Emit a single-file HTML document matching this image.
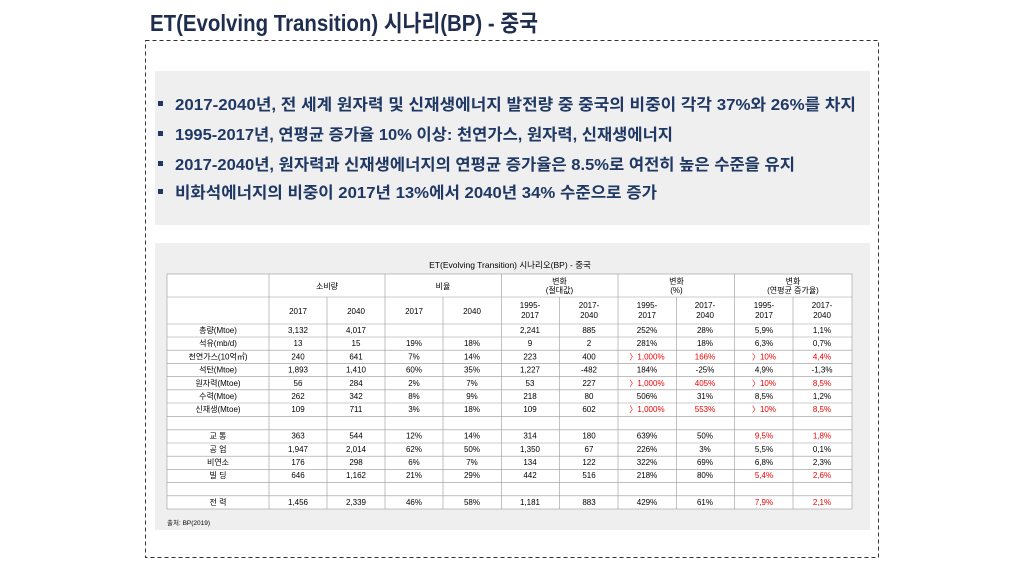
<!DOCTYPE html>
<html><head><meta charset="utf-8"><style>
html,body{margin:0;padding:0;background:#fff;}
svg{display:block;font-family:"Liberation Sans","Noto Sans CJK KR",sans-serif;}
</style></head><body>
<svg width="1024" height="576" viewBox="0 0 1024 576" xmlns="http://www.w3.org/2000/svg">
<rect width="1024" height="576" fill="#fff"/>
<text x="150" y="31" font-size="23" font-weight="bold" fill="#1f2d4f" textLength="388" lengthAdjust="spacingAndGlyphs">ET(Evolving Transition) 시나리(BP) - 중국</text>
<rect x="145.5" y="40.5" width="733" height="517" fill="none" stroke="#333" stroke-width="1" stroke-dasharray="4,3"/>
<rect x="155" y="71" width="715" height="154" fill="#efefef"/>
<rect x="155" y="243" width="715" height="287" fill="#efefef"/>
<g fill="#1f3864" font-size="16" font-weight="bold">
<rect x="158" y="101" width="5" height="5"/>
<rect x="158" y="131" width="5" height="5"/>
<rect x="158" y="161" width="5" height="5"/>
<rect x="158" y="189" width="5" height="5"/>
<text x="175" y="110" textLength="681" lengthAdjust="spacingAndGlyphs">2017-2040년, 전 세계 원자력 및 신재생에너지 발전량 중 중국의 비중이 각각 37%와 26%를 차지</text>
<text x="175" y="140" textLength="498" lengthAdjust="spacingAndGlyphs">1995-2017년, 연평균 증가율 10% 이상: 천연가스, 원자력, 신재생에너지</text>
<text x="175" y="170" textLength="620" lengthAdjust="spacingAndGlyphs">2017-2040년, 원자력과 신재생에너지의 연평균 증가율은 8.5%로 여전히 높은 수준을 유지</text>
<text x="175" y="198" textLength="482" lengthAdjust="spacingAndGlyphs">비화석에너지의 비중이 2017년 13%에서 2040년 34% 수준으로 증가</text>
</g>
<text x="510" y="268" font-size="8.5" text-anchor="middle" fill="#000">ET(Evolving Transition) 시나리오(BP) - 중국</text>
<rect x="167" y="274" width="685" height="235" fill="#fff"/>
<g stroke="#999" stroke-width="0.6" fill="none">
<rect x="167" y="274" width="685" height="235"/>
<line x1="167" y1="297" x2="852" y2="297"/>
<line x1="167" y1="324" x2="852" y2="324"/>
<line x1="167" y1="495.8" x2="852" y2="495.8"/>
<line x1="167" y1="416.6" x2="852" y2="416.6"/>
<line x1="167" y1="429.8" x2="852" y2="429.8"/>
<line x1="167" y1="482.6" x2="852" y2="482.6"/>
<line x1="269" y1="274" x2="269" y2="509"/>
<line x1="327" y1="297" x2="327" y2="509"/>
<line x1="385" y1="274" x2="385" y2="509"/>
<line x1="443" y1="297" x2="443" y2="509"/>
<line x1="501.5" y1="274" x2="501.5" y2="509"/>
<line x1="559.5" y1="297" x2="559.5" y2="509"/>
<line x1="618" y1="274" x2="618" y2="509"/>
<line x1="676.5" y1="297" x2="676.5" y2="509"/>
<line x1="734.5" y1="274" x2="734.5" y2="509"/>
<line x1="793" y1="297" x2="793" y2="509"/>
</g>
<g font-size="8" text-anchor="middle" fill="#000">
<text x="327" y="289">소비량</text>
<text x="443" y="289">비율</text>
<text x="559.5" y="284">변화</text><text x="559.5" y="293">(절대값)</text>
<text x="676.5" y="284">변화</text><text x="676.5" y="293">(%)</text>
<text x="793" y="284">변화</text><text x="793" y="293">(연평균 증가율)</text>
<text x="298" y="314">2017</text><text x="356" y="314">2040</text>
<text x="414" y="314">2017</text><text x="472" y="314">2040</text>
<text x="530" y="308">1995-</text><text x="530" y="318">2017</text>
<text x="589" y="308">2017-</text><text x="589" y="318">2040</text>
<text x="647" y="308">1995-</text><text x="647" y="318">2017</text>
<text x="705" y="308">2017-</text><text x="705" y="318">2040</text>
<text x="764" y="308">1995-</text><text x="764" y="318">2017</text>
<text x="822" y="308">2017-</text><text x="822" y="318">2040</text>
</g>
<g font-size="8" text-anchor="middle" fill="#000">
<g transform="translate(0,333)">
<text x="218">총량(Mtoe)</text><text x="298">3,132</text><text x="356">4,017</text><text x="530">2,241</text><text x="589">885</text><text x="647">252%</text><text x="705">28%</text><text x="764">5,9%</text><text x="822">1,1%</text></g>
<g transform="translate(0,346.2)">
<text x="218">석유(mb/d)</text><text x="298">13</text><text x="356">15</text><text x="414">19%</text><text x="472">18%</text><text x="530">9</text><text x="589">2</text><text x="647">281%</text><text x="705">18%</text><text x="764">6,3%</text><text x="822">0,7%</text></g>
<g transform="translate(0,359.4)">
<text x="218">천연가스(10억㎥)</text><text x="298">240</text><text x="356">641</text><text x="414">7%</text><text x="472">14%</text><text x="530">223</text><text x="589">400</text><text x="647" fill="#e00">〉1,000%</text><text x="705" fill="#e00">166%</text><text x="764" fill="#e00">〉10%</text><text x="822" fill="#e00">4,4%</text></g>
<g transform="translate(0,372.6)">
<text x="218">석탄(Mtoe)</text><text x="298">1,893</text><text x="356">1,410</text><text x="414">60%</text><text x="472">35%</text><text x="530">1,227</text><text x="589">-482</text><text x="647">184%</text><text x="705">-25%</text><text x="764">4,9%</text><text x="822">-1,3%</text></g>
<g transform="translate(0,385.8)">
<text x="218">원자력(Mtoe)</text><text x="298">56</text><text x="356">284</text><text x="414">2%</text><text x="472">7%</text><text x="530">53</text><text x="589">227</text><text x="647" fill="#e00">〉1,000%</text><text x="705" fill="#e00">405%</text><text x="764" fill="#e00">〉10%</text><text x="822" fill="#e00">8,5%</text></g>
<g transform="translate(0,399)">
<text x="218">수력(Mtoe)</text><text x="298">262</text><text x="356">342</text><text x="414">8%</text><text x="472">9%</text><text x="530">218</text><text x="589">80</text><text x="647">506%</text><text x="705">31%</text><text x="764">8,5%</text><text x="822">1,2%</text></g>
<g transform="translate(0,412.2)">
<text x="218">신재생(Mtoe)</text><text x="298">109</text><text x="356">711</text><text x="414">3%</text><text x="472">18%</text><text x="530">109</text><text x="589">602</text><text x="647" fill="#e00">〉1,000%</text><text x="705" fill="#e00">553%</text><text x="764" fill="#e00">〉10%</text><text x="822" fill="#e00">8,5%</text></g>
<g transform="translate(0,438.6)">
<text x="218">교 통</text><text x="298">363</text><text x="356">544</text><text x="414">12%</text><text x="472">14%</text><text x="530">314</text><text x="589">180</text><text x="647">639%</text><text x="705">50%</text><text x="764" fill="#e00">9,5%</text><text x="822" fill="#e00">1,8%</text></g>
<g transform="translate(0,451.8)">
<text x="218">공 업</text><text x="298">1,947</text><text x="356">2,014</text><text x="414">62%</text><text x="472">50%</text><text x="530">1,350</text><text x="589">67</text><text x="647">226%</text><text x="705">3%</text><text x="764">5,5%</text><text x="822">0,1%</text></g>
<g transform="translate(0,465)">
<text x="218">비연소</text><text x="298">176</text><text x="356">298</text><text x="414">6%</text><text x="472">7%</text><text x="530">134</text><text x="589">122</text><text x="647">322%</text><text x="705">69%</text><text x="764">6,8%</text><text x="822">2,3%</text></g>
<g transform="translate(0,478.2)">
<text x="218">빌 딩</text><text x="298">646</text><text x="356">1,162</text><text x="414">21%</text><text x="472">29%</text><text x="530">442</text><text x="589">516</text><text x="647">218%</text><text x="705">80%</text><text x="764" fill="#e00">5,4%</text><text x="822" fill="#e00">2,6%</text></g>
<g transform="translate(0,505)">
<text x="218">전 력</text><text x="298">1,456</text><text x="356">2,339</text><text x="414">46%</text><text x="472">58%</text><text x="530">1,181</text><text x="589">883</text><text x="647">429%</text><text x="705">61%</text><text x="764" fill="#e00">7,9%</text><text x="822" fill="#e00">2,1%</text></g>
</g>
<g stroke="#999" stroke-width="0.6">
<line x1="167" y1="337" x2="852" y2="337"/><line x1="167" y1="350.2" x2="852" y2="350.2"/>
<line x1="167" y1="363.4" x2="852" y2="363.4"/><line x1="167" y1="376.6" x2="852" y2="376.6"/>
<line x1="167" y1="389.8" x2="852" y2="389.8"/><line x1="167" y1="403" x2="852" y2="403"/>
<line x1="167" y1="443" x2="852" y2="443"/><line x1="167" y1="456.2" x2="852" y2="456.2"/>
<line x1="167" y1="469.4" x2="852" y2="469.4"/>
</g>
<text x="167" y="525" font-size="6.5" fill="#000">출처: BP(2019)</text>
</svg>
</body></html>
